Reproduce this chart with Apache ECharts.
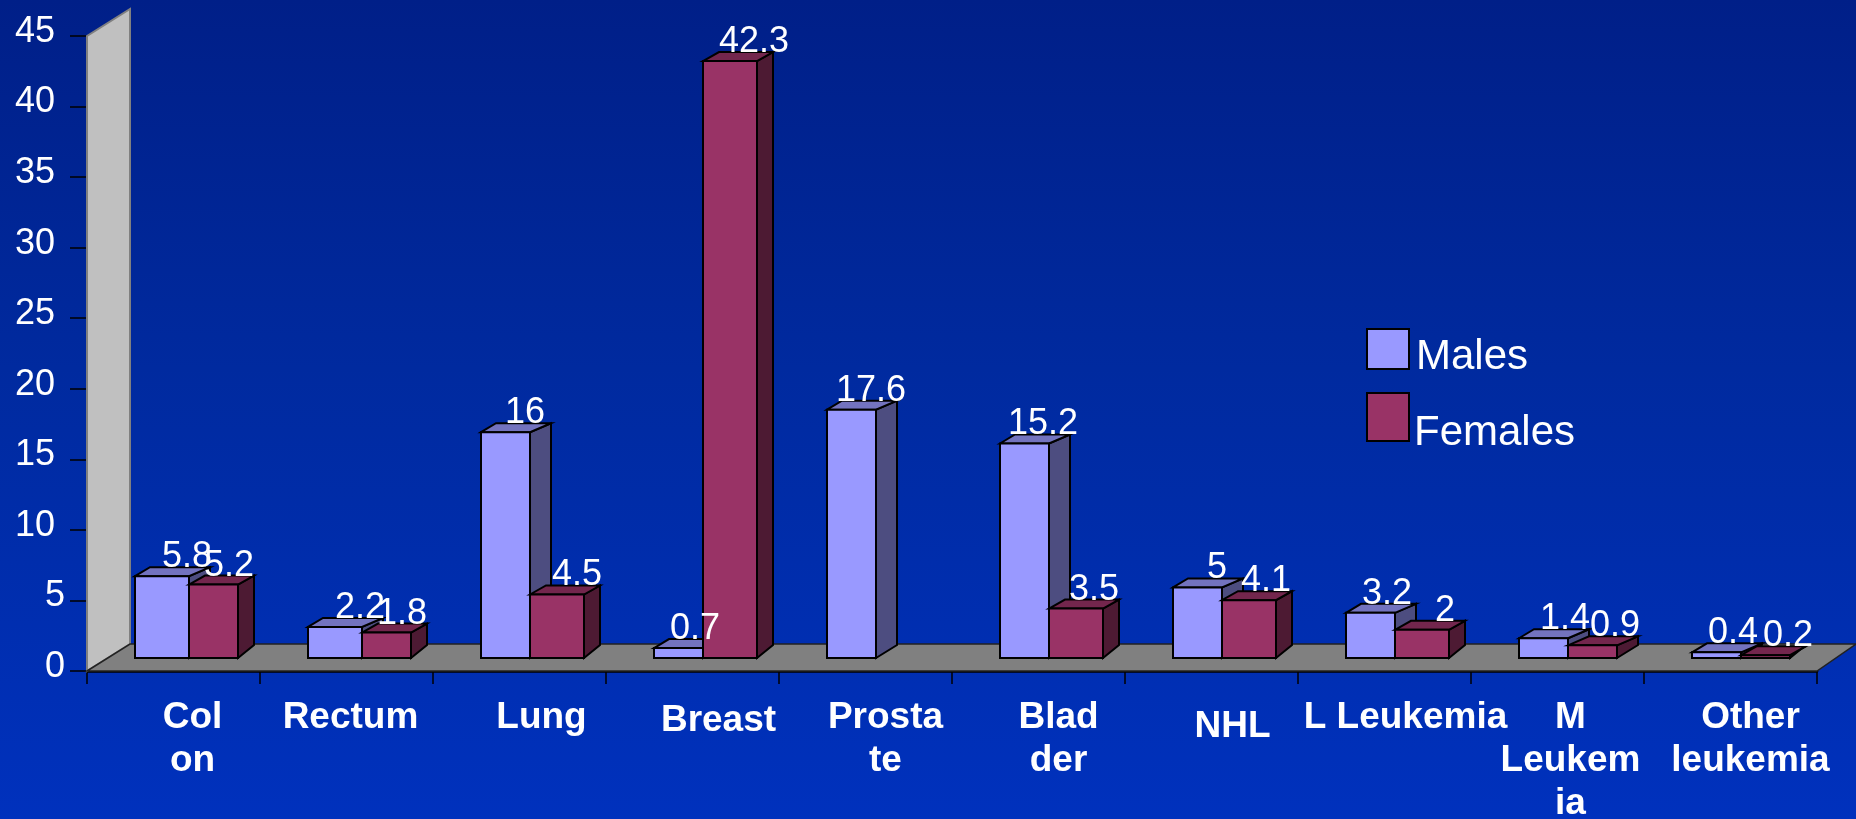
<!DOCTYPE html>
<html>
<head>
<meta charset="utf-8">
<style>html,body{margin:0;padding:0;background:#002a9f}#c{width:1856px;height:819px}</style>
<script src="https://cdn.jsdelivr.net/npm/echarts@6/dist/echarts.min.js"></script>
</head>
<body>
<div id="c"></div>
<script>
var categories = ['Col\non','Rectum','Lung','Breast','Prosta\nte','Blad\nder','NHL','L Leukemia','M\nLeukem\nia','Other\nleukemia'];
var males = [5.8,2.2,16,0.7,17.6,15.2,5,3.2,1.4,0.4];
var females = [5.2,1.8,4.5,42.3,null,3.5,4.1,2,0.9,0.2];
var yTicks = [0,5,10,15,20,25,30,35,40,45];

// layout quirks of the original drawing, kept apart from the data
var maleWidth   = [54,54,49,49,49,49,49,49,49,49];
var femaleWidth = [49,49,54,54,54,54,54,54,49,49];
var femaleDepth = [16,16,16,16,16,16,16,16,21,16];
var maleLabelDx   = [52,52,44,41,44,43,44,41,46,41];
var femaleLabelDx = [40,40,47,51,0,45,44,50,47,47];
var catDx = [19,4,22,26,20,20,21,21,13,20];
var catDy = [0,0,0,3,0,0,9,0,0,0];

var FONT = '"Liberation Sans", Arial, sans-serif';
var BASE_UP = 13, BAR_START = 48, TOP_DY = 9, BOTTOM_DY = 13;

function poly(pts, fill){
  return {type:'polygon', shape:{points:pts}, style:{fill:fill, stroke:'#000', lineWidth:2, lineJoin:'miter'}};
}
function barRenderer(isMale, front, top, side){
  return function(params, api){
    var i = api.value(0), v = api.value(1);
    if (v == null || isNaN(v)) return;
    var band = api.size([1,0])[0];
    var start = api.coord([i,0])[0] - band/2 + BAR_START;
    var mw = maleWidth[i], fw = femaleWidth[i];
    var x0 = isMale ? start : start + mw;
    var w = isMale ? mw : fw;
    var dxR = isMale ? 21 : femaleDepth[i];
    var dxL = isMale ? 15 : femaleDepth[i];
    var yb = api.coord([i,0])[1] - BASE_UP;
    var yt = api.coord([i,v])[1] - BASE_UP;
    var x1 = x0 + w;
    var lx = x0 + (isMale ? maleLabelDx[i] : femaleLabelDx[i]);
    return {type:'group', children:[
      poly([[x1,yb],[x1+dxR,yb-BOTTOM_DY],[x1+dxR,yt-TOP_DY],[x1,yt]], side),
      poly([[x0,yt],[x0+dxL,yt-TOP_DY],[x1+dxR,yt-TOP_DY],[x1,yt]], top),
      poly([[x0,yb],[x1,yb],[x1,yt],[x0,yt]], front),
      {type:'text', z2:100, silent:true, style:{x:lx, y:yt-19, text:String(v), fill:'#fff',
        font:'36px '+FONT, align:'center', verticalAlign:'middle'}}
    ]};
  };
}
function frameRenderer(params, api){
  var o = api.coord([0,0]), t = api.coord([0,45]);
  var cs = params.coordSys;
  var x0 = cs.x, y0 = o[1], x1 = cs.x + cs.width, y1 = t[1];
  var dx = 43, dy = 27;
  return {type:'group', silent:true, children:[
    {type:'polygon', shape:{points:[[x0,y0],[x0+dx,y0-dy],[x0+dx,y1-dy],[x0,y1]]},
      style:{fill:'#c0c0c0', stroke:'#808080', lineWidth:2}},
    {type:'polygon', shape:{points:[[x0,y0],[x0+dx,y0-dy],[x1+39,y0-dy],[x1,y0]]},
      style:{fill:'#808080', stroke:'#222', lineWidth:1.5}}
  ]};
}

var chart = echarts.init(document.getElementById('c'), null, {renderer:'canvas'});
chart.setOption({
  animation:false,
  backgroundColor:new echarts.graphic.LinearGradient(0,0,0,1,[
    {offset:0,color:'#001f88'},{offset:0.45,color:'#002a9f'},{offset:1,color:'#0031bd'}]),
  grid:{left:87, top:36, width:1730, height:635, containLabel:false, outerBoundsMode:'none'},
  legend:[
    {data:['Males'], left:1366, top:328, padding:0, orient:'vertical', itemWidth:42, itemHeight:40, itemGap:0, icon:'rect',
      itemStyle:{borderColor:'#000',borderWidth:2}, selectedMode:false,
      formatter:'{a|{name}}',
      textStyle:{color:'#fff', fontSize:42, fontFamily:FONT,
        rich:{a:{color:'#fff',fontSize:42,fontFamily:FONT,padding:[16,0,0,2]}}}},
    {data:['Females'], left:1366, top:392, padding:0, orient:'vertical', itemWidth:42, itemHeight:48, itemGap:0, icon:'rect',
      itemStyle:{borderColor:'#000',borderWidth:2}, selectedMode:false,
      formatter:'{a|{name}}',
      textStyle:{color:'#fff', fontSize:42, fontFamily:FONT,
        rich:{a:{color:'#fff',fontSize:42,fontFamily:FONT,padding:[32,0,0,0]}}}}
  ],
  xAxis:{
    type:'category',
    data:categories.map(function(c,i){
      return {value:c, textStyle:{padding:[catDy[i],0,0,2*catDx[i]]}};
    }),
    axisLine:{lineStyle:{color:'#000',width:2.5}},
    axisTick:{show:true, alignWithLabel:false, length:13, lineStyle:{color:'#000',width:1.5}},
    axisLabel:{interval:0, margin:25, color:'#fff', fontSize:37, fontWeight:'bold', fontFamily:FONT,
      lineHeight:43, verticalAlign:'top', hideOverlap:false}
  },
  yAxis:{
    type:'value', min:yTicks[0], max:yTicks[yTicks.length-1], interval:5,
    splitLine:{show:false},
    axisLine:{show:true, lineStyle:{color:'#555',width:2}},
    axisTick:{show:true, length:17, lineStyle:{color:'#000',width:1.5}},
    axisLabel:{margin:22, color:'#fff', fontSize:36, fontFamily:FONT,
      formatter:function(v){ return (v>=10?'{two|':'{one|')+v+'}'; },
      rich:{
        two:{color:'#fff',fontSize:36,fontFamily:FONT,padding:[0,10,8,0]},
        one:{color:'#fff',fontSize:36,fontFamily:FONT,padding:[0,0,8,0]}
      }}
  },
  series:[
    {name:'frame', type:'custom', silent:true, clip:false, z:1, renderItem:frameRenderer, data:[[0,0]], encode:{x:0,y:1}},
    {name:'Males', type:'custom', clip:false, z:2, itemStyle:{color:'#9999ff'},
      renderItem:barRenderer(true,'#9999ff','#7373bf','#4d4d80'),
      data:males.map(function(v,i){return [i,v];}), encode:{x:0,y:1}},
    {name:'Females', type:'custom', clip:false, z:2, itemStyle:{color:'#993366'},
      renderItem:barRenderer(false,'#993366','#73264d','#4d1a33'),
      data:females.map(function(v,i){return [i,v];}), encode:{x:0,y:1}}
  ]
});
</script>
</body>
</html>
